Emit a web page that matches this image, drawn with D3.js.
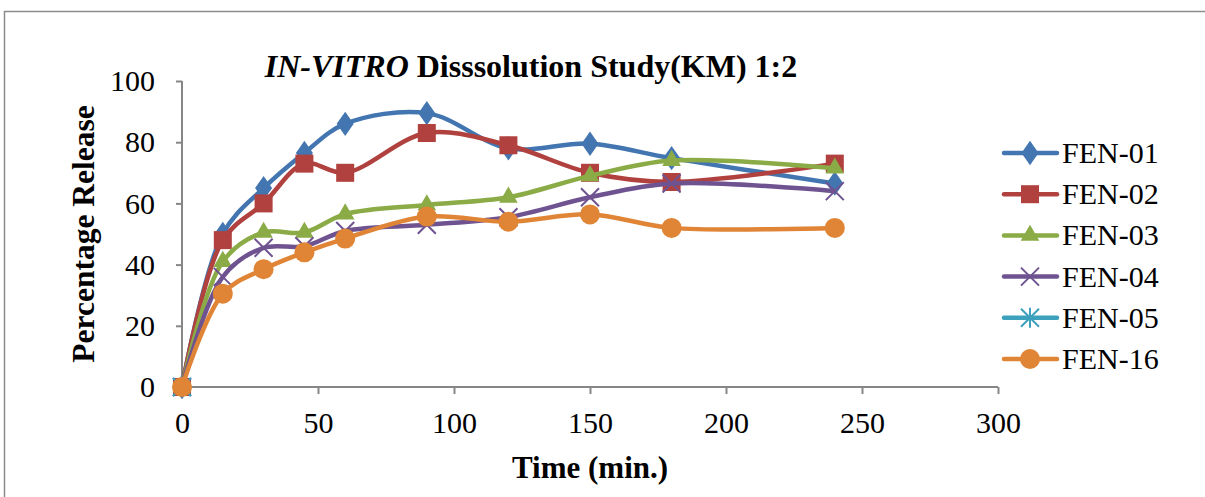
<html>
<script src="https://d3js.org/d3.v7.min.js"></script>
<style>
    body { margin: 0; background: #fff; }
    text { font-family: "Liberation Serif", "Times New Roman", serif; fill: #000; }
</style>
<body>
<svg width="1205" height="497"></svg>
<script>
    // data
    var times = [0, 15, 30, 45, 60, 90, 120, 150, 180, 240];
    var fen01 = [0, 50, 65, 76.5, 86, 89.5, 78, 79.5, 74.8, 66.5];
    var fen02 = [0, 48, 60, 73, 70, 83, 79, 70, 67, 73];
    var fen03 = [0, 41, 50.5, 50.5, 56.5, 59.5, 62, 69, 74, 71.5];
    var fen04 = [0, 36, 45.5, 46, 51, 53, 55.5, 62, 66.5, 64];
    var fen05 = [0, null, null, null, null, null, null, null, null, null];
    var fen16 = [0, 30.5, 38.5, 44, 48.5, 55.7, 54, 56.4, 52, 52];
    var seriesNames = ["FEN-01", "FEN-02", "FEN-03", "FEN-04", "FEN-05", "FEN-16"];
    var xTicks = [0, 50, 100, 150, 200, 250, 300];
    var yTicks = [0, 20, 40, 60, 80, 100];

    var allSeries = [fen01, fen02, fen03, fen04, fen05, fen16];
    var colors = ["#4376b0", "#b0413e", "#8bab46", "#6f5391", "#3ba1bd", "#e08436"];
    var markers = ["diamond", "square", "triangle", "x", "star", "circle"];
    var serif = "'Liberation Serif', 'Times New Roman', serif";

    var svg = d3.select("svg");

    // chart frame
    svg.append("rect")
        .attr("x", 4.5).attr("y", 11.5)
        .attr("width", 1220).attr("height", 520)
        .attr("fill", "none").attr("stroke", "#8c8c8c").attr("stroke-width", 1.5);

    var xs = d3.scaleLinear().domain([0, 300]).range([182, 998]);
    var ys = d3.scaleLinear().domain([0, 100]).range([387, 81]);

    // axes
    var yAxis = svg.append("g")
        .attr("transform", "translate(182,0)")
        .call(d3.axisLeft(ys).tickValues(yTicks).tickSize(6).tickPadding(21));
    var xAxis = svg.append("g")
        .attr("transform", "translate(0,387)")
        .call(d3.axisBottom(xs).tickValues(xTicks).tickSize(7).tickPadding(18));

    [xAxis, yAxis].forEach(function (g) {
        g.attr("font-family", serif);
        g.selectAll("path, line").attr("stroke", "#868686").attr("stroke-width", 2);
        g.selectAll("text")
            .attr("font-family", serif)
            .style("font-size", "30px")
            .attr("fill", "#000");
    });
    // drop the outer ticks of the domain path
    yAxis.select(".domain").attr("d", "M0,387V81");
    xAxis.select(".domain").attr("d", "M182,0H998");

    // titles
    var title = svg.append("text")
        .attr("x", 531).attr("y", 77)
        .attr("text-anchor", "middle")
        .attr("font-family", serif)
        .style("font-size", "32px").style("font-weight", "bold");
    title.append("tspan").style("font-style", "italic").text("IN-VITRO");
    title.append("tspan").text(" Disssolution Study(KM) 1:2");

    svg.append("text")
        .attr("x", 590).attr("y", 478)
        .attr("text-anchor", "middle")
        .attr("font-family", serif)
        .style("font-size", "31px").style("font-weight", "bold")
        .text("Time (min.)");

    svg.append("text")
        .attr("transform", "translate(94,234) rotate(-90)")
        .attr("text-anchor", "middle")
        .attr("font-family", serif)
        .style("font-size", "31.5px").style("font-weight", "bold")
        .text("Percentage Release");

    function drawMarker(g, type, color, cx, cy) {
        if (type === "diamond") {
            g.append("path").attr("d", d3.symbol().type(d3.symbolDiamond).size(190))
                .attr("transform", "translate(" + cx + "," + cy + ") scale(1.15,0.95)")
                .attr("fill", color);
        } else if (type === "square") {
            g.append("rect").attr("x", cx - 9).attr("y", cy - 9)
                .attr("width", 18).attr("height", 18).attr("fill", color);
        } else if (type === "triangle") {
            g.append("path").attr("d", d3.symbol().type(d3.symbolTriangle).size(150))
                .attr("transform", "translate(" + cx + "," + cy + ")")
                .attr("fill", color);
        } else if (type === "x") {
            g.append("path")
                .attr("d", "M" + (cx - 9) + "," + (cy - 9) + "L" + (cx + 9) + "," + (cy + 9) +
                    "M" + (cx + 9) + "," + (cy - 9) + "L" + (cx - 9) + "," + (cy + 9))
                .attr("stroke", color).attr("stroke-width", 2).attr("fill", "none");
        } else if (type === "star") {
            g.append("path")
                .attr("d", "M" + (cx - 9) + "," + (cy - 9) + "L" + (cx + 9) + "," + (cy + 9) +
                    "M" + (cx + 9) + "," + (cy - 9) + "L" + (cx - 9) + "," + (cy + 9) +
                    "M" + cx + "," + (cy - 10) + "L" + cx + "," + (cy + 10))
                .attr("stroke", color).attr("stroke-width", 2).attr("fill", "none");
        } else {
            g.append("circle").attr("cx", cx).attr("cy", cy).attr("r", 10).attr("fill", color);
        }
    }

    var line = d3.line()
        .x(function (d) { return xs(d[0]); })
        .y(function (d) { return ys(d[1]); })
        .curve(d3.curveCatmullRom.alpha(0.5));

    allSeries.forEach(function (vals, i) {
        var pts = times.map(function (t, j) { return [t, vals[j]]; })
            .filter(function (d) { return d[1] !== null; });
        var g = svg.append("g");
        g.append("path").datum(pts)
            .attr("d", line)
            .attr("fill", "none")
            .attr("stroke", colors[i])
            .attr("stroke-width", 4.5)
            .attr("stroke-linejoin", "round");
        pts.forEach(function (d) {
            drawMarker(g, markers[i], colors[i], xs(d[0]), ys(d[1]));
        });
    });

    // legend
    var legend = svg.append("g");
    seriesNames.forEach(function (name, i) {
        var y = 153 + i * 41.2;
        legend.append("line")
            .attr("x1", 1004).attr("x2", 1057).attr("y1", y).attr("y2", y)
            .attr("stroke", colors[i]).attr("stroke-width", 4.5).attr("stroke-linecap", "round");
        drawMarker(legend, markers[i], colors[i], 1030, y);
        legend.append("text")
            .attr("x", 1062).attr("y", y + 10)
            .attr("font-family", serif)
            .style("font-size", "30px")
            .text(name);
    });
</script>
</body>
</html>
